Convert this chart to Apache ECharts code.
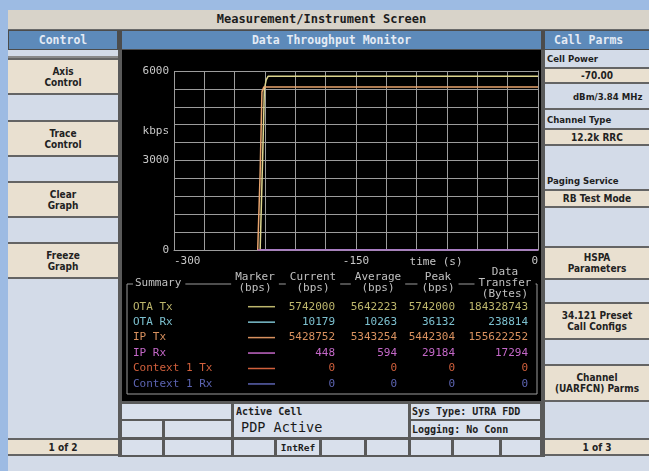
<!DOCTYPE html>
<html><head><meta charset="utf-8">
<script src="https://cdn.jsdelivr.net/npm/echarts@6/dist/echarts.min.js"></script>
<style>
html,body{margin:0;padding:0;}
body{width:649px;height:471px;background:#9dbbe3;position:relative;overflow:hidden;font-family:"DejaVu Sans Mono",monospace;}
.b{position:absolute;box-sizing:border-box;display:flex;align-items:center;justify-content:center;text-align:center;white-space:pre;line-height:11px;overflow:hidden;}
.btn{background:#e9e0d0;border-top:2px solid #646464;border-bottom:2px solid #646464;font-family:"DejaVu Sans Condensed","DejaVu Sans",sans-serif;font-stretch:condensed;font-weight:bold;font-size:10px;color:#222;}
.lbl{font-family:"DejaVu Sans Condensed","DejaVu Sans",sans-serif;font-stretch:condensed;font-weight:bold;font-size:9.5px;color:#1e1e1e;justify-content:flex-start;padding-left:2px;}
.hdr{color:#e4ebf5;font-size:11.5px;font-weight:bold;}
.st{background:#d9e0ec;}
</style></head><body>
<div id="ui"></div>
<div id="chart" style="position:absolute;left:122px;top:50px;width:419px;height:351px;background:#000;"></div>
<script>
// ---------- data ----------
const xTickLabels = [-300, -150, 0];
const yTickLabels = [0, 3000, 6000];
const rowNames = ['OTA Tx', 'OTA Rx', 'IP Tx', 'IP Rx', 'Context 1 Tx', 'Context 1 Rx'];
const rowColors = ['#bdb66c', '#7cc0cf', '#d8915f', '#c468c8', '#d2603c', '#5c64b2'];
const currentBps = [5742000, 10179, 5428752, 448, 0, 0];
const averageBps = [5642223, 10263, 5343254, 594, 0, 0];
const peakBps = [5742000, 36132, 5442304, 29184, 0, 0];
const transferBytes = [184328743, 238814, 155622252, 17294, 0, 0];
const tableHeaders = ['Marker\n(bps)', 'Current\n(bps)', 'Average\n(bps)', 'Peak\n(bps)', 'Data\nTransfer\n(Bytes)'];

const otaTxTime = [-229, -227, -225.5, -224, -222.5, 0];
const otaTxKbps = [0, 3000, 5400, 5700, 5820, 5820];
const ipTxTime = [-231, -229, -227.5, -226, 0];
const ipTxKbps = [0, 2600, 5300, 5460, 5460];
const otaRxTime = [-229, -26, -25, -24, 0];
const otaRxKbps = [10, 10, 36, 10, 10];
const ipRxTime = [-231, 0];
const ipRxKbps = [0.4, 0.6];

// ---------- surrounding instrument UI ----------
const ui = document.getElementById('ui');
function box(x, y, w, h, bg, txt, cls, css) {
  const d = document.createElement('div');
  d.className = 'b ' + (cls || '');
  d.style.cssText = `left:${x}px;top:${y}px;width:${w}px;height:${h}px;` + (bg ? `background:${bg};` : '') + (css || '');
  if (txt) d.textContent = txt;
  ui.appendChild(d);
  return d;
}
box(8, 10, 641, 461, '#d3dbe8');
box(8, 10, 641, 20, '#d8d3c9', 'Measurement/Instrument Screen', '', 'font-weight:bold;font-size:12px;color:#1c1c1c;border-bottom:1px solid #6a6a6a;padding-right:14px;');
box(8, 30, 641, 20, '#4c4c4c');
box(9, 31, 108, 18, '#5d8aba', 'Control', 'hdr');
box(122, 31, 419, 18, '#5d8aba', 'Data Throughput Monitor', 'hdr');
box(545, 31, 104, 18, '#5d8aba', 'Call Parms', 'hdr', 'justify-content:flex-start;padding-left:9px;');
box(118, 50, 4, 407, '#5a5a5a');
box(541, 50, 4, 407, '#5a5a5a');
box(8, 56, 110, 2, '#8a8a8a');
// left buttons
box(8, 58, 110, 37, null, 'Axis\nControl', 'btn');
box(8, 120, 110, 37, null, 'Trace\nControl', 'btn');
box(8, 181, 110, 37, null, 'Clear\nGraph', 'btn');
box(8, 242, 110, 37, null, 'Freeze\nGraph', 'btn');
box(8, 438, 110, 18, null, '1 of 2', 'btn');
// right column
box(545, 50, 104, 17, null, 'Cell Power', 'lbl');
box(545, 67, 104, 17, null, '-70.00', 'btn');
box(545, 84, 104, 26, null, 'dBm/3.84 MHz', 'lbl', 'padding-left:28px;border-bottom:2px solid #646464;');
box(545, 110, 104, 18, null, 'Channel Type', 'lbl');
box(545, 128, 104, 18, null, '12.2k RRC', 'btn');
box(545, 172, 104, 17, null, 'Paging Service', 'lbl');
box(545, 189, 104, 19, null, 'RB Test Mode', 'btn');
box(545, 246, 104, 34, null, 'HSPA\nParameters', 'btn');
box(545, 302, 104, 38, null, '34.121 Preset\nCall Configs', 'btn');
box(545, 364, 104, 38, null, 'Channel\n(UARFCN) Parms', 'btn');
box(545, 438, 104, 18, null, '1 of 3', 'btn');
// status area
box(119, 401, 426, 56, '#5a5a5a');
box(122, 404, 109, 15, null, '', 'st');
box(234, 404, 174, 33, null, '', 'st');
box(411, 404, 129, 15, null, 'Sys Type: UTRA FDD', 'st', 'justify-content:flex-start;padding-left:1px;font-weight:bold;font-size:10px;color:#1e1e1e;');
box(122, 421, 40, 16, null, '', 'st');
box(165, 421, 66, 16, null, '', 'st');
box(411, 421, 129, 16, null, 'Logging: No Conn', 'st', 'justify-content:flex-start;padding-left:1px;font-weight:bold;font-size:10px;color:#1e1e1e;');
box(236, 405, 120, 13, null, 'Active Cell', '', 'justify-content:flex-start;font-weight:bold;font-size:10px;color:#1e1e1e;');
box(241, 419, 150, 17, null, 'PDP Active', '', 'justify-content:flex-start;font-size:13.5px;color:#1a1a1a;');
[[122, 40], [165, 66], [234, 40], [277, 42], [322, 42], [367, 41], [411, 40], [454, 45], [502, 38]].forEach(function (c, i) {
  box(c[0], 440, c[1], 15, null, i === 3 ? 'IntRef' : '', 'st', 'font-weight:bold;font-size:9.5px;color:#1e1e1e;');
});

// ---------- chart ----------
const chart = echarts.init(document.getElementById('chart'));
const mono = '"DejaVu Sans Mono", monospace';
const gridCol = '#9c9c9c';
function zip(t, v) { return t.map(function (x, i) { return [x, v[i]]; }); }
function line(name, color, t, v) {
  return { name: name, type: 'line', data: zip(t, v), showSymbol: false, symbol: 'none',
    lineStyle: { color: color, width: 1.5 }, itemStyle: { color: color }, animation: false, z: 3 };
}
chart.setOption({
  backgroundColor: '#000',
  animation: false,
  grid: { left: 52, top: 21, width: 365, height: 179, show: false },
  xAxis: {
    type: 'value', min: -300, max: 0, interval: 25,
    axisLine: { show: true, lineStyle: { color: gridCol } }, axisTick: { show: false },
    splitLine: { show: true, lineStyle: { color: gridCol, width: 1 } },
    axisLabel: { color: '#c8c8c8', fontFamily: mono, fontSize: 11, margin: 6,
      alignMinLabel: 'left', alignMaxLabel: 'right',
      formatter: function (v) { return xTickLabels.indexOf(v) >= 0 ? String(v) : ''; } }
  },
  yAxis: {
    type: 'value', min: 0, max: 6000, interval: 600,
    axisLine: { show: true, lineStyle: { color: gridCol } }, axisTick: { show: false },
    splitLine: { show: true, lineStyle: { color: gridCol, width: 1 } },
    axisLabel: { color: '#c8c8c8', fontFamily: mono, fontSize: 11, margin: 5,
      formatter: function (v) { return yTickLabels.indexOf(v) >= 0 ? String(v) : ''; } }
  },
  series: [
    line('OTA Rx', '#7cc0cf', otaRxTime, otaRxKbps),
    line('OTA Tx', '#ddd58e', otaTxTime, otaTxKbps),
    line('IP Tx', '#e8a46e', ipTxTime, ipTxKbps),
    line('IP Rx', '#b866c0', ipRxTime, ipRxKbps)
  ]
});

const kb = chart.convertToPixel({ gridIndex: 0 }, [-300, 4000]);
const tl = chart.convertToPixel({ gridIndex: 0 }, [-84, 0]);
const g = [];
function txt(x, y, s, fill, align, extra) {
  const st = Object.assign({ text: s, fill: fill, font: '11px ' + mono, align: align || 'left', verticalAlign: 'middle' }, extra || {});
  g.push({ type: 'text', x: x, y: y, z: 10, style: st });
}
txt(kb[0] - 5, kb[1], 'kbps', '#c8c8c8', 'right');
txt(tl[0], tl[1] + 12, 'time (s)', '#c8c8c8', 'center');
// summary table
const tb = { left: 5, top: 234, right: 415, bottom: 344 };
g.push({ type: 'rect', shape: { x: tb.left, y: tb.top, width: tb.right - tb.left, height: tb.bottom - tb.top },
  style: { fill: 'none', stroke: gridCol, lineWidth: 1 }, z: 5 });
txt(11, tb.top - 1, 'Summary', '#c0c0c0', 'left', { backgroundColor: '#000', padding: [0, 4, 0, 2] });
const hdrX = [133, 191, 256, 316, 383];
tableHeaders.forEach(function (h, i) {
  txt(hdrX[i], tb.top - 1, h, '#c0c0c0', 'center', { backgroundColor: '#000', padding: [0, 4], lineHeight: 11 });
});
const valX = [213, 275, 333, 406];
const cols = [currentBps, averageBps, peakBps, transferBytes];
const rowY0 = 256.7, rowStep = 15.45;
rowNames.forEach(function (n, r) {
  const y = rowY0 + r * rowStep;
  txt(11, y, n, rowColors[r], 'left');
  g.push({ type: 'line', shape: { x1: 126, y1: y, x2: 153, y2: y }, style: { stroke: rowColors[r], lineWidth: 1.5 }, z: 10 });
  cols.forEach(function (c, k) { txt(valX[k], y, String(c[r]), rowColors[r], 'right'); });
});
chart.setOption({ graphic: g });
</script>
</body></html>
